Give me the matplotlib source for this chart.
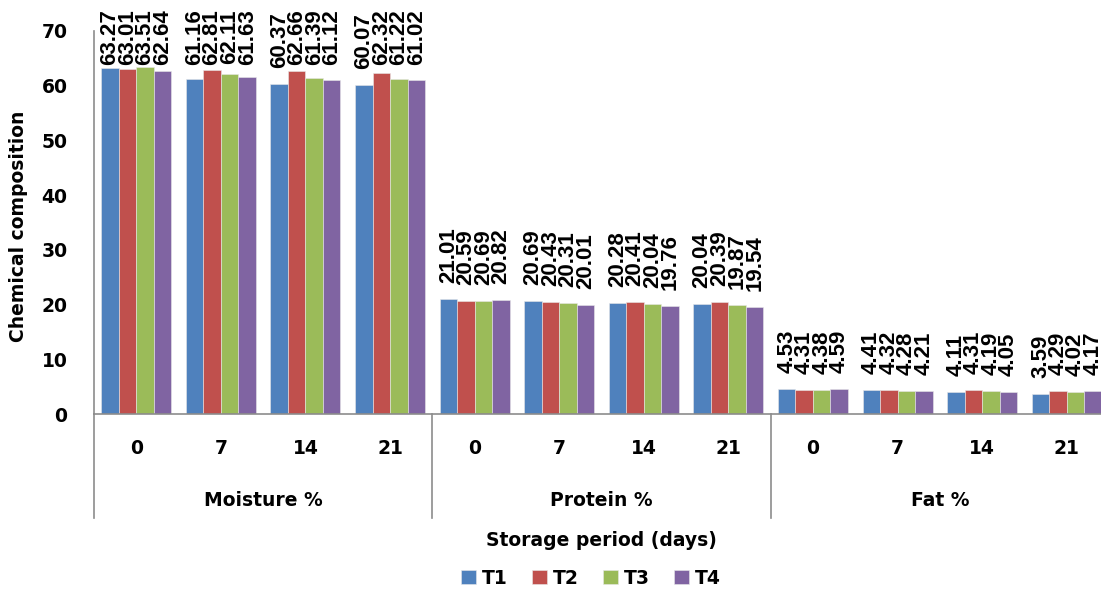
import numpy as np
import matplotlib
matplotlib.use("Agg")
import matplotlib.pyplot as plt
from matplotlib.lines import Line2D

# Данные с графика
groups = ["Moisture %", "Protein %", "Fat %"]
days = ["0", "7", "14", "21"]
series = ["T1", "T2", "T3", "T4"]

t1 = [63.27, 61.16, 60.37, 60.07, 21.01, 20.69, 20.28, 20.04, 4.53, 4.41, 4.11, 3.59]
t2 = [63.01, 62.81, 62.66, 62.32, 20.59, 20.43, 20.41, 20.39, 4.31, 4.32, 4.31, 4.29]
t3 = [63.51, 62.11, 61.39, 61.22, 20.69, 20.31, 20.04, 19.87, 4.38, 4.28, 4.19, 4.02]
t4 = [62.64, 61.63, 61.12, 61.02, 20.82, 20.01, 19.76, 19.54, 4.59, 4.21, 4.05, 4.17]

colors = ["#4F81BD", "#C0504D", "#9BBB59", "#8064A2"]
axis_font = "DejaVu Sans"
label_font = "Liberation Sans"
fs = 13.5

fig = plt.figure(figsize=(11.01, 5.92), dpi=100)
W, H = 1101, 592
# область построения (в пикселях) – правый край уходит за пределы картинки
x0, x1, y0, y1 = 94, 1109, 414, 31
ax = fig.add_axes([x0 / W, (H - y0) / H, (x1 - x0) / W, (y0 - y1) / H])

n_cat = len(groups) * len(days)
x = np.arange(n_cat)
bw = 0.207
data = [t1, t2, t3, t4]

px_per_unit = (y0 - y1) / 70.0
offset = 16 / px_per_unit
lab_len = 57 / px_per_unit
top_lim = (y0 - 9) / px_per_unit

for i, (vals, c, name) in enumerate(zip(data, colors, series)):
    xs = x + (i - 1.5) * bw
    ax.bar(xs, vals, width=bw, color=c, edgecolor="#e8e8e8", linewidth=0.4, label=name)
    for xi, v in zip(xs, vals):
        if v + offset + lab_len > top_lim:
            ax.text(xi, top_lim, f"{v:.2f}", rotation=90, ha="center", va="top",
                    fontsize=16, fontweight="bold", family=label_font, clip_on=False)
        else:
            ax.text(xi, v + offset, f"{v:.2f}", rotation=90, ha="center", va="bottom",
                    fontsize=16, fontweight="bold", family=label_font, clip_on=False)

ax.set_xlim(-0.5, n_cat - 0.5)
ax.set_ylim(0, 70)
ax.set_yticks(np.arange(0, 71, 10))
ax.tick_params(axis="y", length=0, pad=19, labelsize=fs)
for t in ax.get_yticklabels():
    t.set_fontweight("bold")
    t.set_family(axis_font)
ax.set_xticks([])

for s in ["top", "right"]:
    ax.spines[s].set_visible(False)
ax.spines["left"].set_color("#8c8c8c")
ax.spines["bottom"].set_color("#8c8c8c")
ax.spines["left"].set_linewidth(1.2)
ax.spines["bottom"].set_linewidth(1.2)

# многоуровневая ось X
axh = y0 - y1
tr = ax.get_xaxis_transform()
for j, xi in enumerate(x):
    ax.text(xi, -(448 - y0) / axh, days[j % len(days)], transform=tr, ha="center", va="center",
            fontsize=fs, fontweight="bold", family=axis_font)
for g, name in enumerate(groups):
    ax.text(g * 4 + 1.5, -(500 - y0) / axh, name, transform=tr, ha="center", va="center",
            fontsize=fs, fontweight="bold", family=axis_font)
for g in range(len(groups) + 1):
    ax.add_line(Line2D([g * 4 - 0.5, g * 4 - 0.5], [0, -(518 - y0) / axh], transform=tr,
                       color="#8c8c8c", linewidth=1.2, clip_on=False))

fig.text(19 / W, (H - 226) / H, "Chemical composition", rotation=90, ha="center", va="center",
         fontsize=fs, fontweight="bold", family=axis_font)
fig.text(601 / W, (H - 540) / H, "Storage period (days)", ha="center", va="center",
         fontsize=fs, fontweight="bold", family=axis_font)

fig.legend(loc="center", bbox_to_anchor=(591 / W, (H - 578) / H), ncol=4, frameon=False,
           prop={"family": axis_font, "weight": "bold", "size": fs},
           handlelength=0.8, handleheight=0.7, handletextpad=0.3, columnspacing=1.3)

fig.savefig("out.png", dpi=100)
